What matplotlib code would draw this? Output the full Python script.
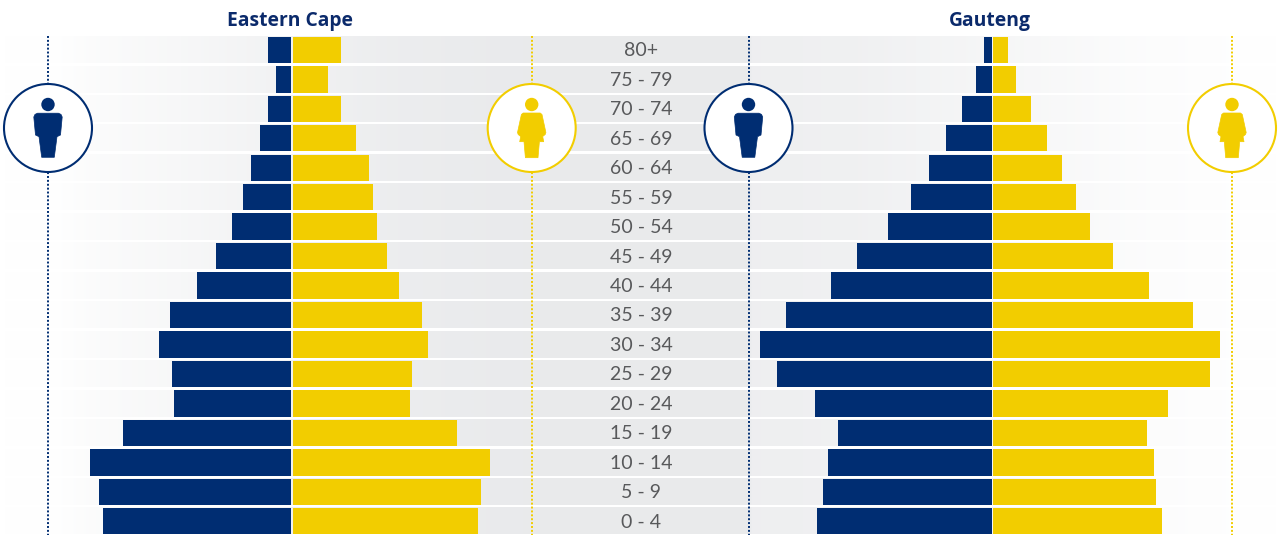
import numpy as np
import matplotlib
matplotlib.use("Agg")
import matplotlib.pyplot as plt
from matplotlib.patches import Circle, Polygon
from matplotlib.colors import LinearSegmentedColormap

# ---- data (relative population share) ----
age_groups = ["80+", "75 - 79", "70 - 74", "65 - 69", "60 - 64", "55 - 59", "50 - 54", "45 - 49",
              "40 - 44", "35 - 39", "30 - 34", "25 - 29", "20 - 24", "15 - 19", "10 - 14", "5 - 9", "0 - 4"]
ec_male = [23.3, 15.3, 23.3, 31.3, 40.3, 48.3, 59.3, 75.3, 94.3, 121.6, 132.6, 119.6, 117.6, 168.6, 201.6, 192.6, 188.6]
ec_female = [48.0, 35.3, 48.0, 63.0, 76.3, 80.0, 84.0, 94.0, 106.0, 129.6, 135.0, 119.6, 117.6, 164.3, 197.3, 188.3, 185.3]
gt_male = [8.0, 16.0, 30.0, 45.3, 63.0, 81.0, 104.0, 134.3, 160.3, 205.6, 231.3, 214.3, 176.6, 153.6, 163.6, 168.6, 174.6]
gt_female = [14.7, 22.7, 37.7, 53.7, 68.4, 82.4, 96.4, 119.4, 156.0, 199.7, 226.7, 216.7, 175.0, 153.4, 161.0, 163.0, 169.0]
regions = ["Eastern Cape", "Gauteng"]

NAVY = "#002d72"
GOLD = "#f2cd00"
TEXT = "#58595b"
W, H = 1280, 540
ROW_H = 26.4 / 29.46
Y0, STEP = 49.9, 29.46
YLIM = ((H - Y0) / STEP, -Y0 / STEP)

fig = plt.figure(figsize=(W / 100, H / 100), dpi=100, facecolor="white")


def layer(xlim, z):
    ax = fig.add_axes([0, 0, 1, 1], zorder=z)
    ax.set_xlim(*xlim)
    ax.set_ylim(*YLIM)
    ax.axis("off")
    ax.patch.set_alpha(0)
    return ax


def row_of(pixel_y):
    return (pixel_y - Y0) / STEP


# ---- gradient bands ----
bg = layer((0, W), 0)
xs = np.arange(W)
sx = [0, 60, 95, 200, 290, 400, 530, 748, 752, 860, 1000, 1150, 1230, 1280]
sv = [255, 254, 251, 246, 241, 236, 233, 233, 238, 240, 246, 252, 254, 255]
vals = np.interp(xs, sx, sv)[None, :]
cmap = LinearSegmentedColormap.from_list("g", [(0.914, 0.918, 0.925), (1, 1, 1)])
y = np.arange(len(age_groups))
for yi in y:
    bg.imshow((vals - 233) / 22, extent=(0, W, yi + ROW_H / 2, yi - ROW_H / 2), aspect="auto",
              cmap=cmap, vmin=0, vmax=1, interpolation="bilinear")
bg.set_xlim(0, W)
bg.set_ylim(*YLIM)

# ---- pyramids ----
GAP = 0.8
for centre, male, female, title in [(292.0, ec_male, ec_female, regions[0]),
                                    (992.3, gt_male, gt_female, regions[1])]:
    ax = layer((-centre, W - centre), 2)
    ax.barh(y, -np.array(male), left=-GAP, height=ROW_H, color=NAVY, linewidth=0)
    ax.barh(y, female, left=GAP, height=ROW_H, color=GOLD, linewidth=0)
    ax.text(-2, row_of(21.2), title, ha="center", va="center", fontsize=13.9, fontweight="bold",
            family="Open Sans", color="#0b2a6b")

# ---- age labels, dotted guides, icons ----
top = layer((0, W), 3)
for yi, lab in zip(y, age_groups):
    top.text(641, yi + 0.03, lab, ha="center", va="center", fontsize=14, family="Lato", color=TEXT)

MALE_BODY = [(-14.2, -11), (-13, -13.6), (-10.5, -14.8), (10.5, -14.8), (13, -13.6), (14.2, -11), (12.5, 7), (9, 8.7),
             (6.3, 29.3), (-6.3, 29.3), (-9, 8.7), (-12.5, 7)]
FEMALE_BODY = [(-8.5, -15), (8.5, -15), (10.3, -13.5), (14.2, 4.5), (13.5, 6.5), (11, 8.5), (12, 13.7), (7.7, 13.7),
               (6.3, 29.7), (-6.3, 29.7), (-7.7, 13.7), (-12, 13.7), (-11, 8.5), (-13.5, 6.5), (-14.2, 4.5), (-10.3, -13.5)]


def icon(cx, colour, body):
    cy = 128
    top.plot([cx, cx], [row_of(36), row_of(535)], color=colour, lw=1.4, ls=(0, (1.0, 1.0)), zorder=1)
    ring = fig.add_axes([(cx - 47) / W, 1 - (cy + 47) / H, 94 / W, 94 / H], zorder=4)
    ring.set_xlim(-47, 47)
    ring.set_ylim(47, -47)
    ring.axis("off")
    ring.patch.set_alpha(0)
    ring.add_patch(Circle((0, 0), 44, fc="white", ec=colour, lw=1.5))
    ring.add_patch(Polygon(body, closed=True, fc=colour, ec=colour, lw=0.5, joinstyle="round"))
    ring.add_patch(Circle((0, -23.5), 6.7, fc=colour, ec="none"))


icon(48.0, NAVY, MALE_BODY)
icon(531.7, GOLD, FEMALE_BODY)
icon(748.5, NAVY, MALE_BODY)
icon(1232.0, GOLD, FEMALE_BODY)

fig.savefig("out.png", dpi=100, facecolor="white")
